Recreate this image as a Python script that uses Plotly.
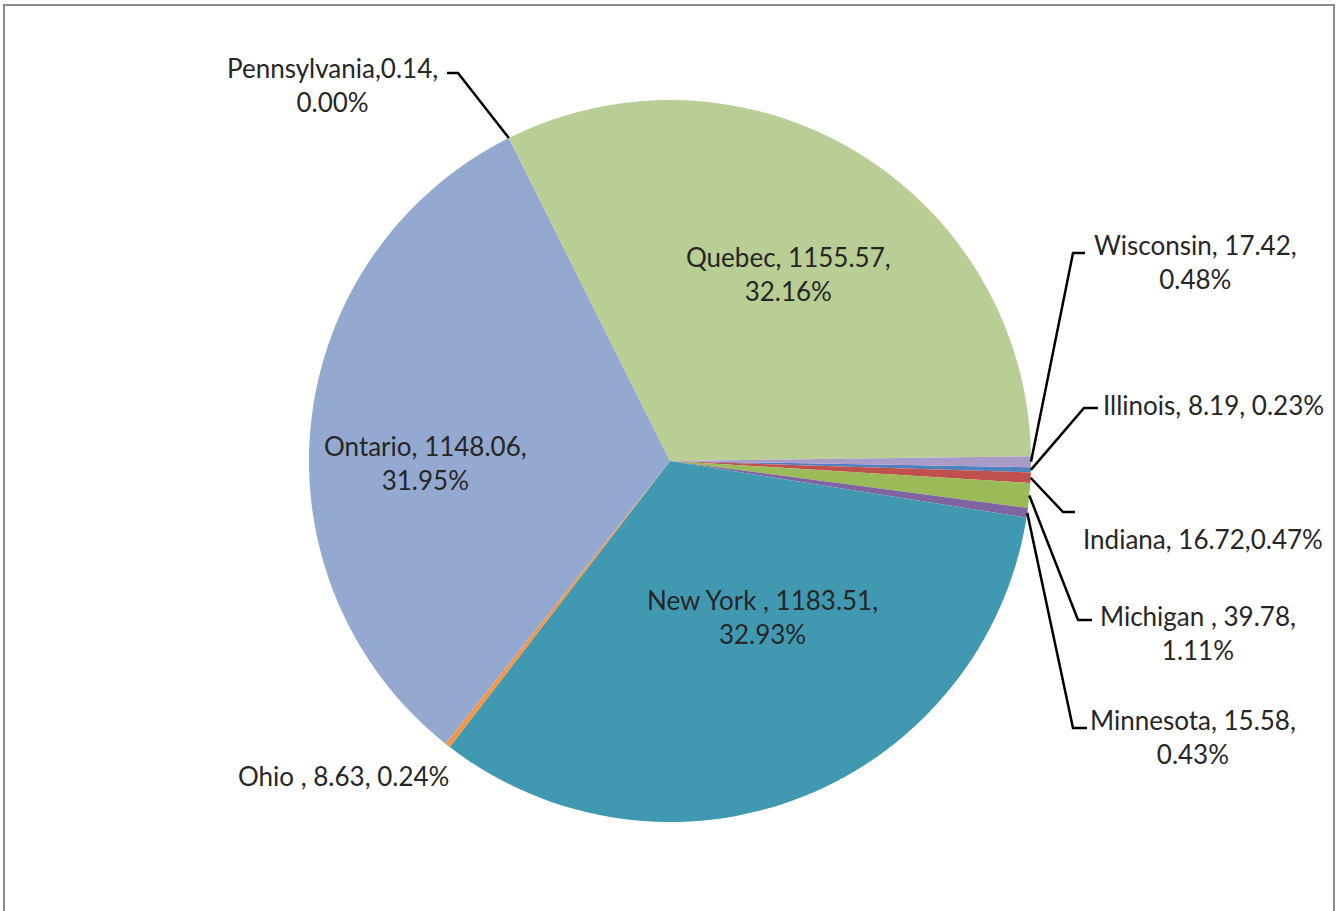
import math
import plotly.graph_objects as go

W, H = 1337, 911

# data, in the order Excel drew the slices (clockwise from ~3 o'clock)
regions = ["Illinois", "Indiana", "Michigan ", "Minnesota", "New York ", "Ohio ",
           "Ontario", "Pennsylvania", "Quebec", "Wisconsin"]
values = [8.19, 16.72, 39.78, 15.58, 1183.51, 8.63, 1148.06, 0.14, 1155.57, 17.42]
pcts = ["0.23%", "0.47%", "1.11%", "0.43%", "32.93%", "0.24%", "31.95%", "0.00%", "32.16%", "0.48%"]
colors = ["#4F81BD", "#C0504D", "#9BBB59", "#8064A2", "#4199B1", "#F79646",
          "#93A9D0", "#D99694", "#B9CE95", "#A99BC8"]

# label text lines (Excel wrapped some of them)
label_text = {
    "Illinois": "Illinois, 8.19, 0.23%",
    "Indiana": "Indiana, 16.72,0.47%",
    "Michigan ": "Michigan , 39.78,<br>1.11%",
    "Minnesota": "Minnesota, 15.58,<br>0.43%",
    "New York ": "New York , 1183.51,<br>32.93%",
    "Ohio ": "Ohio , 8.63, 0.24%",
    "Ontario": "Ontario, 1148.06,<br>31.95%",
    "Pennsylvania": "Pennsylvania,0.14,<br>0.00%",
    "Quebec": "Quebec, 1155.57,<br>32.16%",
    "Wisconsin": "Wisconsin, 17.42,<br>0.48%",
}

# layout: label centres and leader elbows, in pixels
label_pos = {
    "Illinois": (1213, 405), "Indiana": (1203, 539), "Michigan ": (1198, 633),
    "Minnesota": (1193, 737), "New York ": (762, 617), "Ohio ": (343, 776),
    "Ontario": (425, 463), "Pennsylvania": (332, 85), "Quebec": (788, 274),
    "Wisconsin": (1195, 262),
}
elbow = {
    "Wisconsin": ((1073, 253), (1085, 253)),
    "Illinois": ((1084, 408), (1098, 408)),
    "Indiana": ((1063, 512), (1075, 512)),
    "Michigan ": ((1078, 620), (1092, 620)),
    "Minnesota": ((1073, 728), (1087, 728)),
    "Pennsylvania": ((458, 73), (447, 73)),
}

CX, CY, R = 670, 461, 361
ROT = 91


def px(x):
    return x / W


def py(y):
    return 1 - y / H


fig = go.Figure(go.Pie(
    labels=regions, values=values, sort=False, direction="clockwise", rotation=ROT,
    marker=dict(colors=colors, line=dict(width=0)),
    textinfo="none", hoverinfo="label+value+percent", showlegend=False,
    domain=dict(x=[px(CX - R), px(CX + R)], y=[py(CY + R), py(CY - R)]),
))

font = dict(family="Lato, Calibri, sans-serif", size=26, color="#262626")
for name in regions:
    x, y = label_pos[name]
    fig.add_annotation(x=px(x), y=py(y), xref="paper", yref="paper", text=label_text[name],
                       showarrow=False, font=font, xanchor="center", yanchor="middle", align="center")

# leader lines start at the slice's outer edge, at its mid angle
total = sum(values)
cum = 0
for name, v in zip(regions, values):
    mid = math.radians(ROT + 360 * (cum + v / 2) / total)
    cum += v
    if name not in elbow:
        continue
    sx, sy = CX + R * math.sin(mid), CY - R * math.cos(mid)
    (ex, ey), (hx, hy) = elbow[name]
    path = f"M {px(sx)},{py(sy)} L {px(ex)},{py(ey)} L {px(hx)},{py(hy)}"
    fig.add_shape(type="path", path=path, xref="paper", yref="paper",
                  line=dict(color="#000000", width=2.5))

# chart-area border (bottom edge is cut off in the original)
fig.add_shape(type="rect", xref="paper", yref="paper", x0=px(4), x1=px(1334), y0=py(960), y1=py(5),
              line=dict(color="#8C8C8C", width=2), layer="below")

fig.update_layout(width=W, height=H, margin=dict(l=0, r=0, t=0, b=0),
                  paper_bgcolor="white", plot_bgcolor="white")
# drop the browser's default 8px body margin so the figure fills the window
fig.write_html("out.html", config={"displayModeBar": False},
               post_script="document.body.style.margin='0px';")
